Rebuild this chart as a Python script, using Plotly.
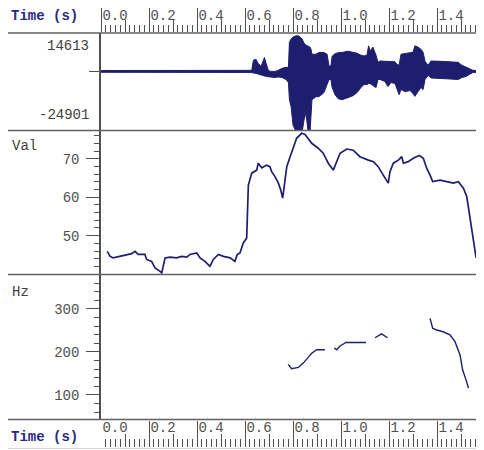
import plotly.graph_objects as go

W, H = 484, 450
OFF = 8  # the page body adds an 8px margin, so the figure is drawn 8px in
FW, FH = W - OFF, H - OFF

# waveform envelope (amplitude, upper / lower edge)
wave_t = [0.000, 0.204, 0.413, 0.600, 0.628, 0.635, 0.646, 0.654, 0.667, 0.675,
          0.681, 0.688, 0.696, 0.704, 0.725, 0.738, 0.754, 0.771, 0.781, 0.785,
          0.792, 0.800, 0.813, 0.825, 0.838, 0.846, 0.854, 0.863, 0.871, 0.875,
          0.879, 0.896, 0.908, 0.929, 0.942, 0.950, 0.958, 0.963, 0.975, 0.988,
          1.004, 1.029, 1.050, 1.067, 1.083, 1.096, 1.108, 1.115, 1.121, 1.133,
          1.146, 1.154, 1.163, 1.183, 1.196, 1.208, 1.225, 1.233, 1.242, 1.250,
          1.267, 1.288, 1.300, 1.308, 1.321, 1.333, 1.342, 1.350, 1.363, 1.375,
          1.413, 1.454, 1.488, 1.504, 1.521, 1.538, 1.550, 1.571, 1.596]
wave_hi = [500, 600, 500, 600, 600, 6380, 6960, 4640, 2900, 5800,
           7950, 4640, 1160, 0, 0, 580, 1740, 2320, 2320, 16650,
           18560, 19720, 20470, 20300, 18560, 16240, 15080, 14500, 13920, 12760,
           9860, 9860, 10850, 10850, 9860, 3070, 3070, 8700, 10150, 10730,
           10850, 11600, 11020, 10440, 9280, 8870, 9280, 14670, 11600, 13920,
           9280, 5220, 5970, 5800, 5510, 5800, 5510, 4060, 3480, 9860,
           10440, 10730, 11020, 14670, 13920, 12760, 11020, 5800, 3480, 5970,
           5800, 5510, 5220, 3480, 2320, 1450, 600, 500, 600]
wave_lo = [-500, -600, -500, -600, -700, -870, -1160, -1740, -2320, -2320,
           -2610, -2900, -3190, -3190, -3480, -3190, -3480, -4640, -6380, -16240,
           -20130, -30740, -34800, -34800, -34800, -27840, -23780, -34800, -34800, -23780,
           -16240, -14500, -14500, -12180, -7540, -4640, -4640, -9280, -13340, -15660,
           -16240, -15080, -13920, -12180, -9280, -7540, -7540, -6960, -6960, -8120,
           -9280, -4640, -4640, -5800, -8700, -6380, -6960, -10440, -13340, -10440,
           -11600, -11020, -12760, -14330, -11600, -9280, -10440, -4640, -2320, -3770,
           -4060, -4350, -4640, -3480, -2900, -1450, -580, -500, -600]

# intensity (Val)
val_t = [0.026, 0.038, 0.051, 0.079, 0.107, 0.128, 0.142, 0.155, 0.183, 0.190,
         0.211, 0.225, 0.246, 0.253, 0.267, 0.288, 0.315, 0.336, 0.357, 0.371,
         0.399, 0.413, 0.433, 0.454, 0.468, 0.489, 0.510, 0.538, 0.558, 0.568,
         0.579, 0.593, 0.607, 0.614, 0.628, 0.649, 0.655, 0.670, 0.690, 0.704,
         0.711, 0.725, 0.739, 0.749, 0.757, 0.764, 0.774, 0.788, 0.801, 0.815,
         0.836, 0.850, 0.878, 0.905, 0.926, 0.947, 0.968, 0.982, 0.996, 1.024,
         1.051, 1.079, 1.093, 1.114, 1.135, 1.155, 1.176, 1.197, 1.204, 1.218,
         1.239, 1.253, 1.260, 1.280, 1.301, 1.326, 1.343, 1.357, 1.371, 1.382,
         1.413, 1.440, 1.468, 1.489, 1.510, 1.524, 1.538, 1.551, 1.563, 1.572,
         1.586, 1.596]
val_db = [45.9, 44.6, 44.2, 44.6, 45.1, 45.3, 45.9, 45.1, 45.1, 43.8,
          43.3, 41.6, 40.7, 40.3, 44.2, 44.4, 44.2, 44.6, 44.4, 45.1,
          45.5, 44.2, 43.3, 42.0, 43.8, 45.1, 44.6, 44.2, 43.3, 45.1,
          45.5, 48.1, 49.4, 63.2, 66.3, 67.1, 68.9, 67.7, 68.4, 68.0,
          66.7, 65.4, 63.7, 61.9, 59.8, 63.7, 68.0, 70.6, 73.2, 75.4,
          76.7, 76.4, 74.1, 72.8, 71.5, 68.9, 67.1, 69.3, 71.5, 72.6,
          72.3, 70.6, 70.2, 69.7, 69.3, 68.0, 65.8, 63.7, 66.7, 68.9,
          69.7, 70.6, 68.9, 69.3, 70.2, 70.9, 70.2, 67.6, 65.8, 64.1,
          64.5, 64.2, 63.7, 64.1, 62.4, 60.2, 54.6, 49.4, 44.2, 45.1,
          44.6, 44.6]

# pitch (Hz), None = unvoiced
pitch_t = [0.780, 0.794, 0.822, 0.843, 0.864, 0.878, 0.899, 0.933, None,
           0.972, 0.982, 0.996, 1.021, 1.065, 1.104, None,
           1.142, 1.169, 1.194, None,
           1.371, 1.382, 1.399, 1.426, 1.454, 1.475, 1.496, 1.507, 1.521, 1.531]
pitch_hz = [171, 161, 164, 174, 188, 197, 205, 205, None,
            209, 205, 214, 222, 222, 222, None,
            233, 242, 233, None,
            278, 255, 251, 247, 240, 224, 193, 158, 135, 116]

time_major = [0.0, 0.2, 0.4, 0.6, 0.8, 1.0, 1.2, 1.4]
time_mid = [0.1, 0.3, 0.5, 0.7, 0.9, 1.1, 1.3, 1.5]
wave_labels = [14613, -24901]

T_MAX = (W - 101) / 240
NAVY = '#1e1e6e'
GRAY = '#505050'
MONO = 'Liberation Mono, Courier New, monospace'


def fx(sx):
    return (sx - OFF) / FW


def fy(sy):
    return 1 - (sy - OFF) / FH


fig = go.Figure()
fig.add_trace(go.Scatter(x=wave_t + wave_t[::-1], y=wave_hi + wave_lo[::-1],
                         mode='lines', fill='toself', fillcolor=NAVY,
                         line=dict(color=NAVY, width=1), xaxis='x', yaxis='y'))
fig.add_trace(go.Scatter(x=val_t, y=val_db, mode='lines',
                         line=dict(color=NAVY, width=1.7), xaxis='x2', yaxis='y2'))
fig.add_trace(go.Scatter(x=pitch_t, y=pitch_hz, mode='lines', connectgaps=False,
                         line=dict(color=NAVY, width=1.4), xaxis='x3', yaxis='y3'))
for ax, ay in [('x4', 'y3'), ('x5', 'y'), ('x6', 'y3')]:
    fig.add_trace(go.Scatter(x=[None], y=[None], xaxis=ax, yaxis=ay))

xdom = [fx(101), 1]
tfont = dict(family=MONO, size=14, color=GRAY)
base_x = dict(domain=xdom, range=[0, T_MAX], showgrid=False, zeroline=False,
              showline=False, automargin=False)
base_y = dict(showgrid=False, zeroline=False, showline=True, linecolor=GRAY,
              linewidth=1.5, automargin=False, tickcolor=GRAY)
time_text = [f'{v:.1f}' for v in time_major]

fig.update_layout(
    template='none',
    width=FW, height=FH, margin=dict(l=0, r=0, t=0, b=0, autoexpand=False),
    paper_bgcolor='white', plot_bgcolor='white', showlegend=False,
    xaxis=dict(base_x, anchor='y', side='top', ticks='outside', ticklen=25,
               tickcolor=GRAY, tickvals=time_major, ticktext=time_text,
               tickfont=tfont, ticklabelshift=14, ticklabelstandoff=-19,
               minor=dict(dtick=0.02, tick0=0, ticks='outside', ticklen=7, tickcolor=GRAY)),
    xaxis5=dict(base_x, overlaying='x', anchor='y', side='top', ticks='outside',
                ticklen=12, tickcolor=GRAY, tickvals=time_mid, showticklabels=False),
    xaxis2=dict(base_x, anchor='y2', showticklabels=False, ticks=''),
    xaxis3=dict(base_x, anchor='y3', showticklabels=False, ticks=''),
    xaxis4=dict(base_x, overlaying='x3', anchor='free', position=fy(447), side='bottom',
                ticks='inside', ticklen=26, tickcolor=GRAY, tickvals=time_major,
                ticktext=time_text, tickfont=tfont,
                ticklabelposition='inside', ticklabelshift=14, ticklabelstandoff=-14,
                minor=dict(dtick=0.02, tick0=0, ticks='inside', ticklen=8, tickcolor=GRAY)),
    xaxis6=dict(base_x, overlaying='x3', anchor='free', position=fy(447), side='bottom',
                ticks='inside', ticklen=13, tickcolor=GRAY, tickvals=time_mid,
                showticklabels=False),
    yaxis=dict(base_y, domain=[fy(130), fy(33)], range=[-33640, 22040], anchor='x',
               tickvals=[0], ticks='outside', ticklen=10, showticklabels=False),
    yaxis2=dict(base_y, domain=[fy(274), fy(131)], range=[40, 77.3], anchor='x2',
                tickvals=[40, 50, 60, 70], ticktext=['', '50', '60', '70'],
                ticks='outside', ticklen=13, tickfont=tfont, ticklabelstandoff=4,
                minor=dict(dtick=2, tick0=0, ticks='outside', ticklen=5, tickcolor=GRAY)),
    yaxis3=dict(base_y, domain=[fy(419), fy(275)], range=[44, 379], anchor='x3',
                tickvals=[100, 200, 300], ticks='outside', ticklen=13,
                tickfont=tfont, ticklabelstandoff=4,
                minor=dict(dtick=20, tick0=0, ticks='outside', ticklen=5, tickcolor=GRAY)),
)

# panel separators
for yp in [33, 130.5, 274.5, 419.5]:
    fig.add_shape(type='line', xref='paper', yref='paper', x0=0, x1=1,
                  y0=fy(yp), y1=fy(yp), line=dict(color='#606060', width=1.5))
fig.add_shape(type='line', xref='paper', yref='paper', x0=0, x1=1,
              y0=fy(448.5), y1=fy(448.5), line=dict(color='#d8d8d8', width=1))

# labels
lab = dict(family=MONO, size=14, color='#404040')
for v in wave_labels:
    fig.add_annotation(x=fx(91), xref='paper', y=v, yref='y', text=str(v),
                       showarrow=False, xanchor='right', yanchor='middle', font=lab)
for txt, yp in [('Val', 146), ('Hz', 292)]:
    fig.add_annotation(x=fx(10), xref='paper', y=fy(yp), yref='paper', text=txt,
                       showarrow=False, xanchor='left', yanchor='middle', font=lab)
for yp in [16, 437]:
    fig.add_annotation(x=fx(9), xref='paper', y=fy(yp), yref='paper',
                       text='<b>Time (s)</b>', showarrow=False, xanchor='left',
                       yanchor='middle', font=dict(family=MONO, size=14, color='#2a2a80'))

fig.write_html("out.html")
